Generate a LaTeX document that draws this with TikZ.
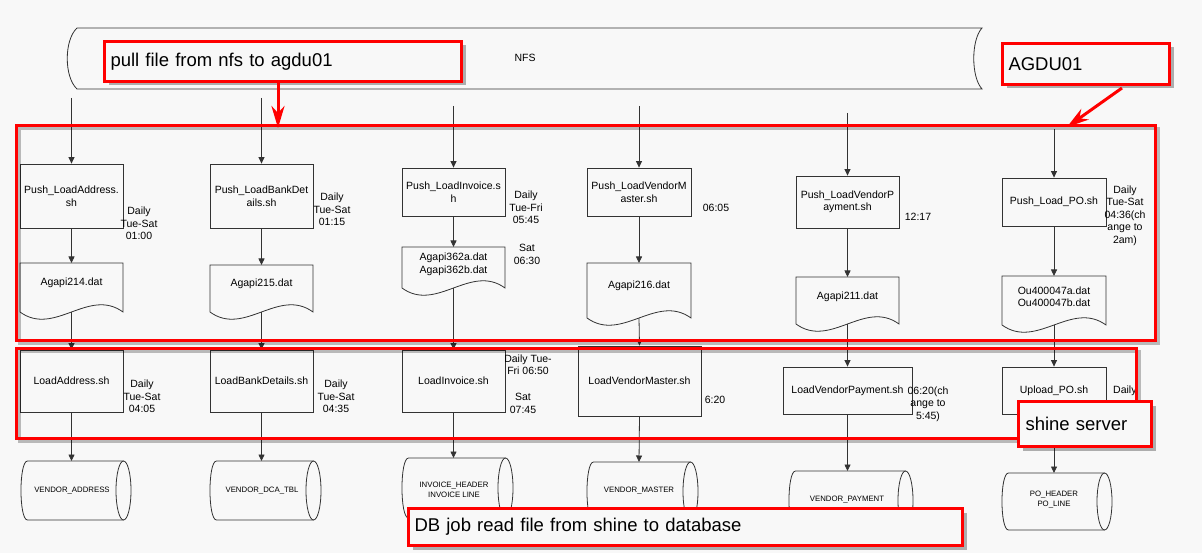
\documentclass[tikz,border=0pt]{standalone}
\usepackage{fontspec}
\setmainfont{Liberation Sans}
\usetikzlibrary{arrows.meta,shadows,calc}
\definecolor{bg}{HTML}{F8F8F8}
\definecolor{ln}{HTML}{333333}
\definecolor{rd}{HTML}{FF0000}
\newcommand\mydoc[5]{% name, x, top, yb, halfwidth
  \draw[ln, line width=0.8pt] ({#2-#5},#3) -- ({#2+#5},#3) -- ({#2+#5},#4)
    .. controls ({#2+#5/3},{#4-25}) and ({#2-#5/3},{#4+25}) .. ({#2-#5},#4) -- cycle;
  \coordinate (#1n) at (#2,#3);
  \coordinate (#1s) at (#2,#4);}
\newcommand\mycyl[6]{% name, colx, x0, x1, top, bottom
  \draw[ln, line width=0.8pt] ({#3+6.5},#5) -- ({#4-7.5},#5)
    ({#3+6.5},#6) -- ({#4-7.5},#6)
    ({#3+6.5},#5) .. controls ({#3+6.5-8.7},#5) and ({#3+6.5-8.7},#6) .. ({#3+6.5},#6);
  \draw[ln, line width=0.8pt] ({#4-7.5},{(#5+#6)/2}) ellipse [x radius=7.5, y radius={(#6-#5)/2}];
  \coordinate (#1n) at (#2,#5);}
\begin{document}
\begin{tikzpicture}[x=1pt,y=-1pt,
  box/.style={draw=ln, line width=0.8pt, align=center, inner sep=1pt,
    font=\fontsize{10.5}{12.5}\selectfont},
  lbl/.style={align=center, inner sep=0pt, font=\fontsize{10.5}{12.5}\selectfont},
  dbt/.style={align=center, inner sep=0pt, font=\fontsize{7.8}{10}\selectfont},
  conn/.style={draw=ln, line width=0.8pt, -{Triangle[length=6.5pt,width=6pt]}},
  callout/.style={draw=rd, line width=3pt, fill=bg, anchor=north west, align=left,
    inner xsep=6pt, inner ysep=0pt, font=\fontsize{18.5}{22}\selectfont,
    drop shadow={shadow xshift=4pt, shadow yshift=-4pt, opacity=0.3, fill=black}},
  redarrow/.style={draw=rd, line width=3pt, -{Stealth[length=22pt,width=13pt,inset=7pt]}},
  bigshadow/.style={draw=black, opacity=0.25, line width=3pt},
  bigred/.style={draw=rd, line width=3pt}
]
\useasboundingbox (0,0) rectangle (1202,553);
\fill[bg] (0,0) rectangle (1202,553);

% NFS store
\draw[ln, line width=0.8pt] (77,28) -- (982,28) .. controls (971,40) and (971,77) .. (982,89)
  -- (77,89) .. controls (64,77) and (64,40) .. (77,28);
\node[lbl] (nfs) at (525,58) {NFS};

% input line starts
\coordinate (s1) at (71.5,98);
\coordinate (s2) at (261.5,98);
\coordinate (s3) at (453.5,106);
\coordinate (s4) at (639,106);
\coordinate (s5) at (847.5,113);
\coordinate (s6) at (1054,129);

% push scripts
\node[box, minimum width=103pt, minimum height=64pt] (p1) at (71.5,196) {Push\_LoadAddress.\\sh};
\node[box, minimum width=103pt, minimum height=64pt] (p2) at (261.5,196) {Push\_LoadBankDet\\ails.sh};
\node[box, minimum width=103pt, minimum height=48pt] (p3) at (453.5,192) {Push\_LoadInvoice.s\\h};
\node[box, minimum width=104pt, minimum height=48pt] (p4) at (639,192) {Push\_LoadVendorM\\aster.sh};
\node[box, minimum width=103pt, minimum height=52pt] (p5) at (847.5,202) {Push\_LoadVendorP\\ayment.sh};
\node[box, minimum width=104pt, minimum height=48pt] (p6) at (1054,202) {Push\_Load\_PO.sh};

% documents
\mydoc{d1}{71.5}{263}{312}{51.5}
\mydoc{d2}{261.5}{265}{312}{51.5}
\mydoc{d3}{453.5}{247}{288}{51.5}
\mydoc{d4}{639}{263}{318}{52}
\mydoc{d5}{847.5}{277}{324}{51.5}
\mydoc{d6}{1054}{276}{325}{52}
\node[lbl] (d1t) at (71.5,283) {Agapi214.dat};
\node[lbl] (d2t) at (261.5,284) {Agapi215.dat};
\node[lbl] (d3t) at (453.5,264.5) {Agapi362a.dat\\Agapi362b.dat};
\node[lbl] (d4t) at (639,286) {Agapi216.dat};
\node[lbl] (d5t) at (847.5,297) {Agapi211.dat};
\node[lbl] (d6t) at (1054,296.5) {Ou400047a.dat\\Ou400047b.dat};

% load scripts
\node[box, minimum width=103pt, minimum height=62pt] (l1) at (71.5,381) {LoadAddress.sh};
\node[box, minimum width=103pt, minimum height=62pt] (l2) at (261.5,381) {LoadBankDetails.sh};
\node[box, minimum width=103pt, minimum height=62pt] (l3) at (453.5,381) {LoadInvoice.sh};
\node[box, minimum width=123pt, minimum height=70pt] (l4) at (639.5,381) {LoadVendorMaster.sh};
\node[box, minimum width=129pt, minimum height=47pt] (l5) at (847.5,390.5) {LoadVendorPayment.sh};
\node[box, minimum width=104pt, minimum height=47pt] (l6) at (1054,390.5) {Upload\_PO.sh};

% databases
\mycyl{b1}{71.5}{21}{131}{461}{520}
\mycyl{b2}{261.5}{210}{321}{461}{520}
\mycyl{b3}{453.5}{402}{513}{458}{518}
\mycyl{b4}{639}{587}{698}{462}{521}
\mycyl{b5}{847.5}{789}{913}{471}{530}
\mycyl{b6}{1054}{1002}{1112}{473}{530}
\node[dbt] (b1t) at (72,491) {VENDOR\_ADDRESS};
\node[dbt] (b2t) at (262,491) {VENDOR\_DCA\_TBL};
\node[dbt] (b3t) at (454,490) {INVOICE\_HEADER\\INVOICE LINE};
\node[dbt] (b4t) at (639,491) {VENDOR\_MASTER};
\node[dbt] (b5t) at (847,500) {VENDOR\_PAYMENT};
\node[dbt] (b6t) at (1054,500) {PO\_HEADER\\PO\_LINE};

% timing labels
\node[lbl] (t1) at (139,223.5) {Daily\\Tue-Sat\\01:00};
\node[lbl] (t2) at (332,209.5) {Daily\\Tue-Sat\\01:15};
\node[lbl] (t3) at (526,207.5) {Daily\\Tue-Fri\\05:45};
\node[lbl] (t4) at (716,208) {06:05};
\node[lbl] (t5) at (918,217) {12:17};
\node[lbl] (t6) at (1125,215.5) {Daily\\Tue-Sat\\04:36(ch\\ange to\\2am)};
\node[lbl] (t7) at (527,254.5) {Sat\\06:30};
\node[lbl] (t8) at (142,396.5) {Daily\\Tue-Sat\\04:05};
\node[lbl] (t9) at (336,396.5) {Daily\\Tue-Sat\\04:35};
\node[lbl] (t10) at (528,364.5) {Daily Tue-\\Fri 06:50};
\node[lbl] (t11) at (523,403.5) {Sat\\07:45};
\node[lbl] (t12) at (715,400) {6:20};
\node[lbl] (t13) at (928,404) {06:20(ch\\ange to\\5:45)};
\node[lbl, anchor=west] (t14) at (1113,391) {Daily};

% connectors
\foreach \i in {1,...,6}{
  \draw[conn] (s\i) -- (p\i.north);
  \draw[conn] (p\i.south) -- (d\i n);
  \draw[conn] (d\i s) -- (l\i.north);
  \draw[conn] (l\i.south) -- (b\i n);
}

% big red frames
\draw[bigshadow] (19,129) rectangle (1158,343);
\draw[bigshadow] (19,351) rectangle (1139,441);
\draw[bigred] (16,126) rectangle (1155,340);
\draw[bigred] (16,348) rectangle (1136,438);

% callouts
\node[callout, minimum width=357pt, minimum height=40pt, text width=345pt] (c1) at (103,40) {pull file from nfs to agdu01};
\node[callout, minimum width=167pt, minimum height=41pt, text width=155pt] (c2) at (1001,42) {AGDU01};
\node[callout, minimum width=133pt, minimum height=45pt, text width=119pt, inner xsep=7pt] (c3) at (1017,400) {shine server\\[-4pt]};
\node[callout, minimum width=554pt, minimum height=37pt, text width=542pt] (c4) at (407,507) {DB job read file from shine to database};

% red arrows
\coordinate (a1e) at (278,128);
\draw[redarrow] (c1.south -| a1e) -- (a1e);
\coordinate (a2s) at (1122,88);
\coordinate (a2e) at (1067,127);
\draw[redarrow] (a2s) -- (a2e);
\end{tikzpicture}
\end{document}
